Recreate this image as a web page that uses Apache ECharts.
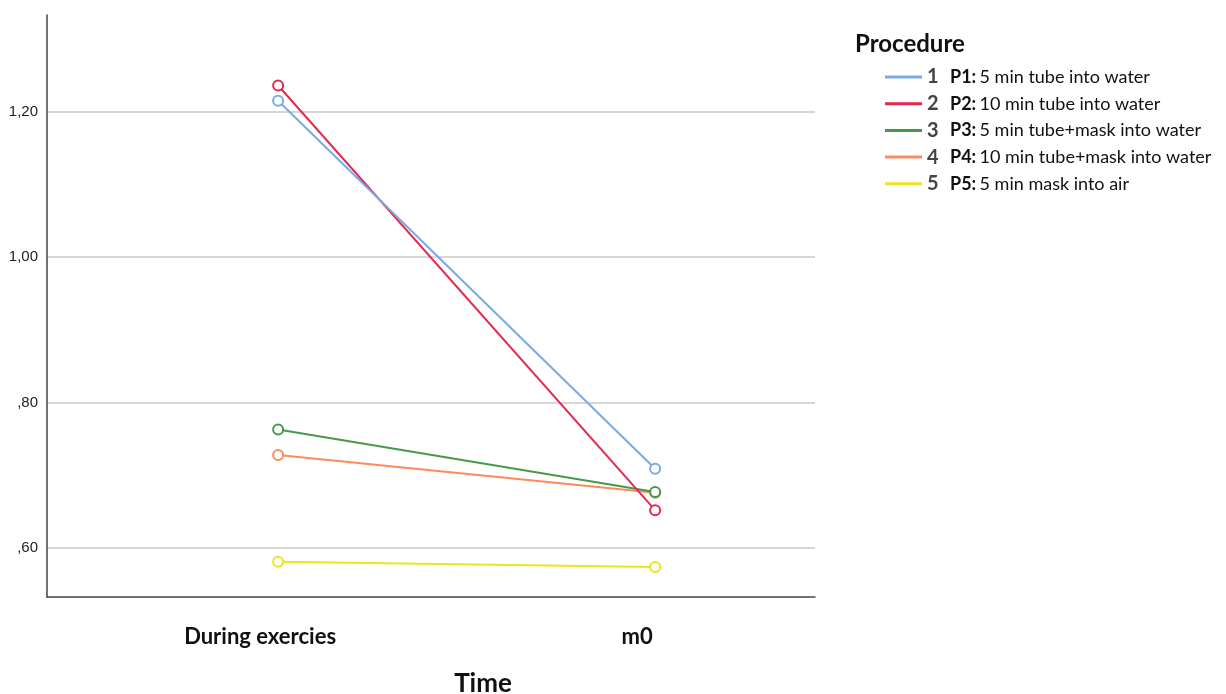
<!DOCTYPE html>
<html><head><meta charset="utf-8">
<script src="https://cdn.jsdelivr.net/npm/echarts@6/dist/echarts.min.js"></script>
<style>html,body{margin:0;padding:0;background:#fff}#c{width:1226px;height:694px}</style>
</head><body><div id="c"></div>
<script>
const categories = ['During exercies', 'm0'];
const seriesNames = ['1', '2', '3', '4', '5'];
const legendCodes = ['P1:', 'P2:', 'P3:', 'P4:', 'P5:'];
const legendTexts = ['5 min tube into water', '10 min tube into water', '5 min tube+mask into water', '10 min tube+mask into water', '5 min mask into air'];
const p1 = [1.215, 0.709];
const p2 = [1.236, 0.652];
const p3 = [0.763, 0.677];
const p4 = [0.728, 0.676];
const p5 = [0.581, 0.574];
const yTicks = [0.6, 0.8, 1.0, 1.2];
const colors = ['#78aae6', '#e3294f', '#47994a', '#fb8a5e', '#efe31c'];

const allValues = [p1, p2, p3, p4, p5];
const chart = echarts.init(document.getElementById('c'));
const fmtY = v => {
  const s = v.toFixed(2).replace('.', ',');
  return s.startsWith('0') ? s.slice(1) : s;
};
chart.setOption({
  animation: false,
  backgroundColor: '#fff',
  title: {
    text: 'Procedure', left: 850, top: 27,
    textStyle: { fontFamily: 'Lato', fontWeight: 'bold', fontSize: 24, color: '#111' }
  },
  legend: {
    orient: 'vertical', left: 880, top: 62,
    itemWidth: 37, itemHeight: 3, itemGap: 6.7, icon: 'rect',
    data: seriesNames,
    formatter: name => {
      const i = seriesNames.indexOf(name);
      return '{n|' + name + '}{b|' + legendCodes[i] + '} {t|' + legendTexts[i] + '}';
    },
    textStyle: {
      rich: {
        n: { width: 23, fontFamily: 'Lato', fontWeight: 'bold', fontSize: 20, color: '#444', lineHeight: 18 },
        b: { fontFamily: 'Lato', fontWeight: 'bold', fontSize: 18, color: '#111', lineHeight: 18 },
        t: { fontFamily: 'Lato', fontSize: 18, color: '#111', lineHeight: 18 }
      }
    }
  },
  grid: { left: 47, right: 411, top: 15, bottom: 97, containLabel: false, outerBoundsMode: 'none' },
  xAxis: {
    type: 'value', min: -0.613, max: 1.424,
    axisLine: { show: true, onZero: false, lineStyle: { color: '#444', width: 1.5 } },
    axisTick: { show: false, customValues: [0, 1] },
    splitLine: { show: false },
    axisLabel: {
      customValues: [0, 1], margin: 29,
      formatter: v => categories[Math.round(v)],
      fontFamily: 'Lato', fontWeight: 'bold', fontSize: 22, color: '#111',
      padding: [0, 36, 0, 0]
    },
    name: 'Time', nameLocation: 'middle', nameGap: 74,
    nameTextStyle: { fontFamily: 'Lato', fontWeight: 'bold', fontSize: 26, color: '#111', padding: [0, 0, 0, 104] }
  },
  yAxis: {
    type: 'value', min: 0.5326, max: 1.333,
    axisLine: { show: true, onZero: false, lineStyle: { color: '#444', width: 1.5 } },
    axisTick: { show: false, customValues: yTicks },
    splitLine: { show: true, lineStyle: { color: '#d6d6d6', width: 2 } },
    axisLabel: {
      customValues: yTicks, margin: 9, formatter: fmtY,
      fontFamily: 'Liberation Sans', fontSize: 15, color: '#222'
    }
  },
  series: allValues.map((vals, i) => ({
    name: seriesNames[i], type: 'line',
    data: vals.map((v, j) => [j, v]),
    symbol: 'emptyCircle', symbolSize: 10,
    lineStyle: { color: colors[i], width: 2 },
    itemStyle: { color: colors[i], borderWidth: 1.8 },
    z: 10 - i
  }))
});
</script></body></html>
